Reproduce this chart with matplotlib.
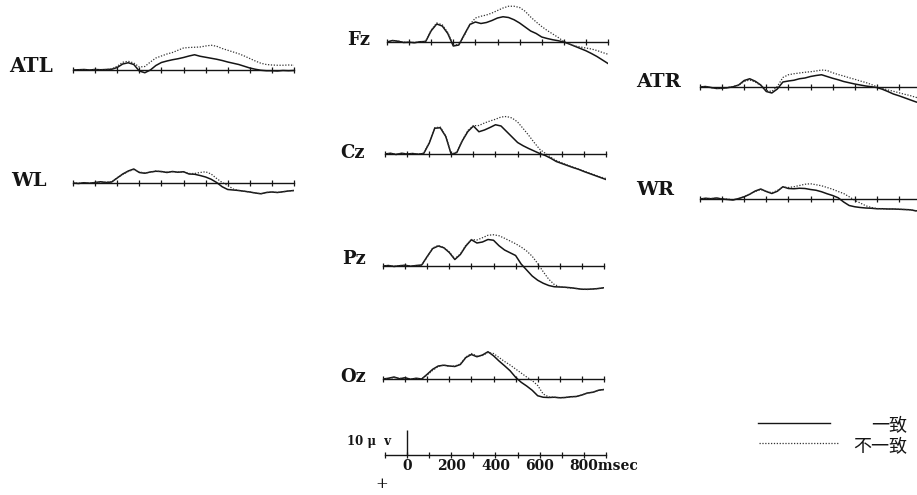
import matplotlib.pyplot as plt
from matplotlib.lines import Line2D

# ERP waveforms, µV, negative plotted upward (as in the original figure)
times = list(range(-100, 901, 25))  # ms

fz_match = [0.0, -0.6, -0.3, 0.2, 0.1, 0.3, -0.1, -0.2, -4.5, -7.2, -6.4, -3.4, 1.6, 1.2, -3.0, -7.0, -8.0, -7.4, -7.8, -8.6, -9.6, -10.1, -9.8, -8.9, -7.6, -6.0, -4.4, -3.4, -2.0, -1.4, -0.9, -0.5, 0.0, 0.8, 1.7, 2.6, 3.5, 4.6, 5.8, 7.2, 8.6]
fz_mismatch = [0.0, -0.5, -0.4, 0.1, 0.2, 0.2, 0.0, -0.3, -4.8, -7.6, -6.9, -3.8, 1.2, 1.0, -2.6, -7.0, -9.6, -10.3, -10.8, -11.6, -12.6, -13.6, -14.3, -14.3, -13.8, -12.3, -10.0, -8.0, -6.2, -4.6, -3.2, -1.8, -0.2, 0.8, 1.6, 2.0, 2.4, 2.8, 3.4, 4.2, 4.9]

cz_match = [0.0, -0.3, 0.2, -0.3, 0.0, -0.2, 0.1, -0.2, -4.3, -10.3, -10.5, -7.0, 0.2, -0.6, -5.3, -9.0, -11.2, -8.9, -9.6, -10.6, -11.7, -11.2, -9.0, -6.8, -4.6, -3.3, -2.2, -1.2, -0.2, 0.6, 1.7, 3.0, 3.8, 4.6, 5.4, 6.1, 7.0, 7.8, 8.6, 9.4, 10.2]
cz_mismatch = [0.0, -0.2, 0.1, -0.2, -0.1, -0.1, 0.0, -0.3, -4.6, -10.5, -10.8, -7.2, 0.1, -0.8, -5.5, -9.4, -11.3, -11.4, -12.4, -13.2, -13.9, -14.8, -15.0, -14.4, -12.8, -10.2, -7.5, -4.6, -1.9, -0.3, 1.3, 2.6, 3.5, 4.4, 5.2, 6.0, 6.8, 7.6, 8.4, 9.2, 9.8]

pz_match = [0.0, -0.2, 0.2, -0.1, -0.3, 0.1, -0.2, -0.4, -3.8, -7.0, -8.0, -7.3, -5.4, -2.6, -4.6, -8.0, -10.5, -9.2, -9.6, -10.6, -10.3, -8.1, -6.4, -5.3, -4.2, -0.8, 1.6, 4.0, 5.7, 6.9, 7.8, 8.3, 8.4, 8.5, 8.7, 9.0, 9.3, 9.3, 9.2, 9.0, 8.7]
pz_mismatch = [0.0, -0.1, 0.1, -0.2, -0.2, 0.0, -0.1, -0.3, -3.6, -7.2, -8.2, -7.4, -5.6, -2.9, -4.8, -8.3, -10.6, -10.4, -11.3, -12.3, -12.5, -12.1, -11.1, -10.0, -8.9, -7.6, -6.0, -3.9, -1.0, 2.3, 5.3, 7.4, 8.3, 8.6, 8.8, 9.0, 9.3, 9.4, 9.2, 9.0, 8.8]

oz_match = [0.0, -0.3, -0.8, -0.1, -0.5, 0.1, -0.3, 0.0, -1.9, -3.9, -5.2, -5.5, -5.2, -5.0, -5.8, -8.6, -9.8, -8.9, -9.6, -10.9, -9.3, -7.2, -5.3, -3.3, -0.7, 1.3, 2.8, 4.5, 6.7, 7.3, 7.4, 7.3, 7.5, 7.4, 7.1, 7.0, 6.4, 5.6, 5.3, 4.5, 4.2]
oz_mismatch = [0.0, -0.2, -0.6, -0.2, -0.4, 0.0, -0.2, -0.1, -1.6, -3.5, -5.0, -5.6, -5.0, -5.2, -6.0, -8.8, -10.2, -9.2, -9.4, -10.6, -10.2, -8.6, -7.0, -5.6, -4.0, -2.4, -0.8, 0.6, 2.6, 6.0, 7.2, 7.3, 7.5, 7.4, 7.1, 7.0, 6.4, 5.6, 5.3, 4.5, 4.2]

atl_match = [0.0, -0.1, -0.2, 0.0, -0.2, -0.1, -0.2, -0.3, -1.0, -2.4, -2.9, -2.2, 0.4, 1.1, 0.0, -1.8, -3.0, -3.6, -4.1, -4.5, -5.0, -5.6, -6.1, -5.5, -5.1, -4.7, -4.3, -3.8, -3.2, -2.7, -2.2, -1.5, -0.8, -0.3, 0.1, 0.3, 0.3, 0.4, 0.2, 0.3, 0.2]
atl_mismatch = [0.0, -0.1, -0.1, -0.1, -0.2, 0.0, -0.2, -0.4, -1.5, -3.1, -3.5, -2.8, -1.2, -1.4, -3.2, -4.8, -5.6, -6.4, -7.0, -7.9, -8.8, -9.0, -9.1, -9.2, -9.6, -9.9, -9.5, -8.6, -7.9, -7.2, -6.5, -5.6, -4.6, -3.6, -2.7, -2.2, -2.0, -1.9, -1.9, -2.0, -1.9]

wl_match = [0.0, 0.2, -0.1, 0.1, -0.2, -0.5, -0.2, -0.4, -2.0, -3.6, -4.8, -5.6, -4.2, -3.9, -4.4, -4.7, -4.6, -4.2, -4.6, -4.3, -4.5, -3.6, -3.5, -3.0, -2.4, -1.5, -0.2, 1.5, 2.6, 2.8, 3.0, 3.3, 3.6, 4.0, 4.3, 3.8, 3.6, 3.8, 3.5, 3.2, 3.0]
wl_mismatch = [0.0, 0.1, -0.2, 0.1, -0.1, -0.4, -0.3, -0.5, -2.1, -3.4, -4.6, -5.4, -4.4, -4.0, -4.3, -4.8, -4.5, -4.4, -4.5, -4.4, -4.4, -3.8, -3.8, -4.2, -4.5, -3.6, -1.8, -0.2, 1.0, 2.4, 3.0, 3.3, 3.6, 4.0, 4.3, 3.8, 3.6, 3.8, 3.5, 3.2, 3.0]

atr_match = [0.0, -0.2, 0.2, 0.6, 0.5, 0.3, -0.1, -0.8, -2.6, -3.3, -2.3, -0.8, 1.8, 2.4, 0.8, -2.0, -2.4, -2.7, -3.3, -3.6, -4.2, -4.6, -4.9, -4.2, -3.5, -2.9, -2.2, -1.7, -1.2, -0.8, -0.4, -0.1, 0.2, 0.9, 1.8, 2.8, 3.5, 4.3, 5.1, 5.9, 6.6]
atr_mismatch = [0.0, -0.1, 0.3, 0.5, 0.6, 0.2, -0.2, -0.7, -2.2, -2.8, -2.0, -0.6, 1.4, 1.8, -0.2, -3.8, -4.9, -5.3, -5.6, -5.9, -6.1, -6.4, -6.8, -6.6, -5.7, -5.0, -4.4, -3.7, -3.1, -2.4, -1.8, -1.0, -0.1, 0.5, 1.2, 1.7, 2.3, 2.9, 3.4, 4.1, 4.6]

wr_match = [0.0, -0.3, -0.1, -0.4, 0.0, 0.2, 0.4, -0.2, -0.9, -1.9, -3.2, -4.0, -3.0, -2.2, -3.1, -4.9, -4.2, -4.1, -4.3, -4.2, -3.8, -3.5, -2.9, -2.1, -1.4, -0.5, 1.2, 2.6, 3.1, 3.4, 3.6, 3.7, 3.9, 3.9, 4.0, 4.0, 4.1, 4.2, 4.3, 4.7, 4.9]
wr_mismatch = [0.0, -0.2, -0.2, -0.3, -0.1, 0.1, 0.3, -0.1, -1.0, -2.0, -3.0, -3.8, -3.1, -2.5, -3.4, -4.8, -4.6, -4.9, -5.4, -5.9, -6.1, -5.7, -5.3, -4.6, -3.9, -3.0, -2.2, -0.9, 0.5, 1.6, 2.7, 3.4, 3.8, 3.9, 4.0, 4.0, 4.1, 4.2, 4.3, 4.7, 4.9]

scale_ticks = [0, 200, 400, 600]
legend_labels = ["一致", "不一致"]

# layout in pixels: x of -100 ms, baseline y, label x, label y, label size
W, H = 917, 495
PX_PER_UV = 2.5
panels = [
    ("ATL", atl_match, atl_mismatch, 73, 70, 9, 66, 14.5),
    ("WL", wl_match, wl_mismatch, 73, 183, 11, 181, 14),
    ("Fz", fz_match, fz_mismatch, 387, 42, 347, 40, 13),
    ("Cz", cz_match, cz_mismatch, 385, 154, 340, 153, 13),
    ("Pz", pz_match, pz_mismatch, 383, 266, 342, 259, 13),
    ("Oz", oz_match, oz_mismatch, 383, 379, 340, 377, 13),
    ("ATR", atr_match, atr_mismatch, 700, 87, 636, 82, 14),
    ("WR", wr_match, wr_mismatch, 700, 199, 636, 190, 14),
]

ink = "#151515"
serif = "DejaVu Serif"

fig = plt.figure(figsize=(W / 100, H / 100), dpi=100)
fig.patch.set_facecolor("white")


def make_axes(x0, yb, up=48, down=36):
    ax = fig.add_axes([x0 / W, 1 - (yb + down) / H, 221 / W, (up + down) / H])
    ax.set_xlim(-100, 900)
    ax.set_ylim(down / PX_PER_UV, -up / PX_PER_UV)  # negative up
    ax.set_facecolor("none")
    for s in ["top", "right", "left"]:
        ax.spines[s].set_visible(False)
    ax.spines["bottom"].set_position(("data", 0))
    ax.spines["bottom"].set_color(ink)
    ax.spines["bottom"].set_linewidth(1.0)
    ax.set_xticks(range(-100, 901, 100))
    ax.tick_params(axis="x", direction="inout", length=4, width=0.9,
                   color=ink, labelbottom=False)
    ax.set_yticks([])
    return ax


for name, match, mismatch, x0, yb, lx, ly, fs in panels:
    ax = make_axes(x0, yb)
    ax.plot(times, match, color=ink, lw=1.1, solid_joinstyle="round")
    ax.plot(times, mismatch, color="#333333", lw=0.9, linestyle=(0, (1, 1.3)))
    fig.text(lx / W, 1 - ly / H, name, ha="left", va="center",
             family=serif, weight="bold", fontsize=fs, color=ink)

# calibration
ax = make_axes(385, 455, up=40, down=40)
ax.vlines(0, -10, 0, color=ink, lw=1.0)
for t in scale_ticks:
    ax.text(t, 4.4, str(t), ha="center", va="center", family=serif,
            weight="bold", fontsize=10, color=ink)
fig.text(569 / W, 1 - 466 / H, "800msec", ha="left", va="center",
         family=serif, weight="bold", fontsize=10, color=ink)
fig.text(347 / W, 1 - 442 / H, "10 μ  v", ha="left", va="center",
         family=serif, weight="bold", fontsize=8.5, color=ink)
fig.text(382 / W, 1 - 484 / H, "+", ha="center", va="center",
         family=serif, fontsize=11, color=ink)

# legend
fig.add_artist(Line2D([758 / W, 830 / W], [1 - 423 / H, 1 - 423 / H],
                      color=ink, lw=1.0))
fig.add_artist(Line2D([759 / W, 838 / W], [1 - 443 / H, 1 - 443 / H],
                      color="#333333", lw=0.9, linestyle=(0, (1, 1.3))))
for lab, y in zip(legend_labels, [426, 447]):
    fig.text(907 / W, 1 - y / H, lab, ha="right", va="center",
             family=["Noto Sans CJK JP", "DejaVu Sans"], fontsize=13, color=ink)

fig.savefig("out.png", dpi=100, facecolor="white")
